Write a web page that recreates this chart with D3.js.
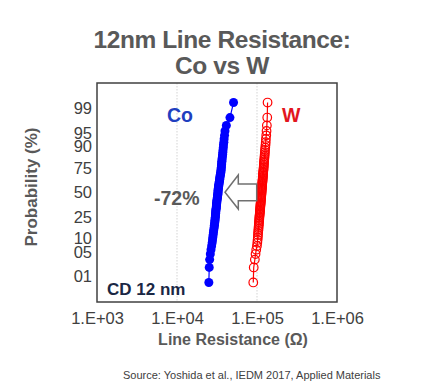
<!DOCTYPE html>
<html><head><meta charset="utf-8">
<script src="https://cdn.jsdelivr.net/npm/d3@7/dist/d3.min.js"></script>
<style>
html,body{margin:0;padding:0;background:#fff;}
svg{display:block;font-family:"Liberation Sans",Arial,sans-serif;}
</style></head>
<body><svg id="c" width="422" height="390"></svg>
<script>
// ---- data ----
const titleLines = ["12nm Line Resistance:", "Co vs W"];
const xTickValues = [1e3, 1e4, 1e5, 1e6];
const xTickLabels = ["1.E+03", "1.E+04", "1.E+05", "1.E+06"];
const yTickValues = [99, 95, 90, 75, 50, 25, 10, 5, 1];
const yTickLabels = ["99", "95", "90", "75", "50", "25", "10", "05", "01"];
// cumulative probability (%) of each sorted sample
const prob = [0.625, 1.875, 3.125, 4.375, 5.625, 6.875, 8.125, 9.375, 10.625, 11.875,
  13.125, 14.375, 15.625, 16.875, 18.125, 19.375, 20.625, 21.875, 23.125, 24.375,
  25.625, 26.875, 28.125, 29.375, 30.625, 31.875, 33.125, 34.375, 35.625, 36.875,
  38.125, 39.375, 40.625, 41.875, 43.125, 44.375, 45.625, 46.875, 48.125, 49.375,
  50.625, 51.875, 53.125, 54.375, 55.625, 56.875, 58.125, 59.375, 60.625, 61.875,
  63.125, 64.375, 65.625, 66.875, 68.125, 69.375, 70.625, 71.875, 73.125, 74.375,
  75.625, 76.875, 78.125, 79.375, 80.625, 81.875, 83.125, 84.375, 85.625, 86.875,
  88.125, 89.375, 90.625, 91.875, 93.125, 94.375, 95.625, 96.875, 98.125, 99.375];
// line resistance (ohm), Co
const coRes = [25000, 25300, 25600, 26100, 26600, 27100, 27500, 27800, 28000, 28300,
  28500, 28700, 28900, 29200, 29300, 29500, 29700, 29850, 29900, 30100,
  30200, 30300, 30400, 30500, 30600, 30700, 30900, 31000, 31100, 31200,
  31300, 31400, 31500, 31700, 31800, 32000, 32100, 32200, 32400, 32500,
  32550, 32600, 32700, 32800, 33000, 33100, 33300, 33500, 33600, 33800,
  34000, 34200, 34300, 34500, 34700, 34900, 35200, 35400, 35500, 35600,
  35800, 35900, 36100, 36200, 36400, 36500, 36700, 37000, 37200, 37400,
  37600, 37900, 38100, 38500, 38800, 39300, 39800, 41400, 45900, 50900];
// line resistance (ohm), W
const wRes = [89800, 91000, 94000, 95900, 97800, 99800, 100900, 101700, 102400, 102900,
  103200, 103800, 104400, 104700, 105300, 105600, 105900, 106500, 106800, 107100,
  107400, 108000, 108300, 108700, 109000, 109300, 109700, 110000, 110300, 110600,
  111000, 111300, 111600, 111900, 112200, 112600, 112900, 113200, 113500, 113900,
  114000, 114300, 114600, 114900, 115200, 115500, 115900, 116200, 116600, 116900,
  117300, 117600, 118000, 118400, 118700, 118900, 119300, 119700, 120200, 120700,
  121100, 121500, 121800, 122300, 122700, 123100, 123800, 124300, 124900, 125600,
  125900, 126800, 127700, 128600, 129200, 130500, 131600, 132800, 134300, 135500];

// ---- helpers ----
function probit(p) { // Acklam inverse normal CDF
  const a=[-3.969683028665376e+01,2.209460984245205e+02,-2.759285104469687e+02,1.383577518672690e+02,-3.066479806614716e+01,2.506628277459239e+00];
  const b=[-5.447609879822406e+01,1.615858368580409e+02,-1.556989798598866e+02,6.680131188771972e+01,-1.328068155288572e+01];
  const c=[-7.784894002430293e-03,-3.223964580411365e-01,-2.400758277161838e+00,-2.549732539343734e+00,4.374664141464968e+00,2.938163982698783e+00];
  const d=[7.784695709041462e-03,3.224671290700398e-01,2.445134137142996e+00,3.754408661907416e+00];
  const pl=0.02425, ph=1-pl;
  let q,r;
  if (p<pl){q=Math.sqrt(-2*Math.log(p));return (((((c[0]*q+c[1])*q+c[2])*q+c[3])*q+c[4])*q+c[5])/((((d[0]*q+d[1])*q+d[2])*q+d[3])*q+1);}
  if (p>ph){q=Math.sqrt(-2*Math.log(1-p));return -(((((c[0]*q+c[1])*q+c[2])*q+c[3])*q+c[4])*q+c[5])/((((d[0]*q+d[1])*q+d[2])*q+d[3])*q+1);}
  q=p-0.5;r=q*q;
  return (((((a[0]*r+a[1])*r+a[2])*r+a[3])*r+a[4])*r+a[5])*q/(((((b[0]*r+b[1])*r+b[2])*r+b[3])*r+b[4])*r+1);
}

const svg = d3.select("#c");
const L=97, R=337, T=83, B=302;
const x = d3.scaleLog().domain([1e3,1e6]).range([L,R]);
const yz = d3.scaleLinear().domain([-3.04,3.04]).range([B,T]);
const y = p => yz(probit(p/100));

// title
svg.append("g").selectAll("text").data(titleLines).join("text")
  .attr("x",222).attr("y",(d,i)=>48+i*25.5)
  .attr("text-anchor","middle").attr("font-size",24.5).attr("font-weight","bold")
  .attr("letter-spacing",-0.4).attr("fill","#595959").text(d=>d);

// gridlines
svg.append("g").selectAll("line").data([1e4,1e5]).join("line")
  .attr("x1",d=>x(d)).attr("x2",d=>x(d)).attr("y1",T).attr("y2",B)
  .attr("stroke","#c8c8c8").attr("stroke-width",0.8).attr("stroke-dasharray","1.5,1.5");

// box
svg.append("rect").attr("x",L).attr("y",T).attr("width",R-L).attr("height",B-T)
  .attr("fill","none").attr("stroke","#404040").attr("stroke-width",1.5);

// x axis
const xAxis = d3.axisBottom(x).tickValues(xTickValues).tickSize(0).tickPadding(0)
  .tickFormat((d,i)=>xTickLabels[i]);
const gx = svg.append("g").attr("transform",`translate(0,${B})`).call(xAxis);
gx.select(".domain").remove();
gx.selectAll("text").attr("y",22).attr("dy",0).attr("font-size",16.5)
  .attr("font-family","Liberation Sans, Arial, sans-serif").attr("fill","#404040");

// y ticks
svg.append("g").selectAll("text").data(yTickValues).join("text")
  .attr("x",92).attr("y",d=>y(d)).attr("dy","0.35em").attr("text-anchor","end")
  .attr("font-size",16.5).attr("fill","#404040").text((d,i)=>yTickLabels[i]);

// axis titles
svg.append("text").attr("x",233).attr("y",345).attr("text-anchor","middle")
  .attr("font-size",16).attr("font-weight","bold").attr("fill","#595959").text("Line Resistance (Ω)");
svg.append("text").attr("transform","translate(37,187) rotate(-90)").attr("text-anchor","middle")
  .attr("font-size",17).attr("font-weight","bold").attr("fill","#595959").text("Probability (%)");

// series
const coData = coRes.map((v,i)=>({v, p:prob[i]}));
const wData = wRes.map((v,i)=>({v, p:prob[i]}));
const line = d3.line().x(d=>x(d.v)).y(d=>y(d.p));
svg.append("path").datum(coData).attr("d",line).attr("fill","none").attr("stroke","#0000ff").attr("stroke-width",1.2);
svg.append("g").selectAll("circle").data(coData).join("circle")
  .attr("cx",d=>x(d.v)).attr("cy",d=>y(d.p)).attr("r",4.5).attr("fill","#0000ff");
svg.append("path").datum(wData).attr("d",line).attr("fill","none").attr("stroke","#ff0000").attr("stroke-width",1.2);
svg.append("g").selectAll("circle").data(wData).join("circle")
  .attr("cx",d=>x(d.v)).attr("cy",d=>y(d.p)).attr("r",4.3).attr("fill","none")
  .attr("stroke","#ff0000").attr("stroke-width",1.2);

// annotations
svg.append("text").attr("x",167).attr("y",122).attr("font-size",19.5).attr("font-weight","bold")
  .attr("fill","#1f3fbf").text("Co");
svg.append("text").attr("x",282).attr("y",122).attr("font-size",19.5).attr("font-weight","bold")
  .attr("fill","#e2161e").text("W");
svg.append("text").attr("x",154).attr("y",204.5).attr("font-size",19.5).attr("font-weight","bold")
  .attr("fill","#595959").text("-72%");
svg.append("text").attr("x",107).attr("y",295).attr("font-size",17).attr("font-weight","bold")
  .attr("fill","#1a2744").text("CD 12 nm");
svg.append("path")
  .attr("d","M225,192.3 L238.3,175 L238.3,184 L256.7,184 L256.7,200.7 L238.3,200.7 L238.3,209 Z")
  .attr("fill","#fff").attr("stroke","#707070").attr("stroke-width",1.5).attr("stroke-linejoin","miter");

// source
svg.append("text").attr("x",123).attr("y",379).attr("font-size",11).attr("fill","#404040")
  .text("Source: Yoshida et al., IEDM 2017, Applied Materials");
</script></body></html>
